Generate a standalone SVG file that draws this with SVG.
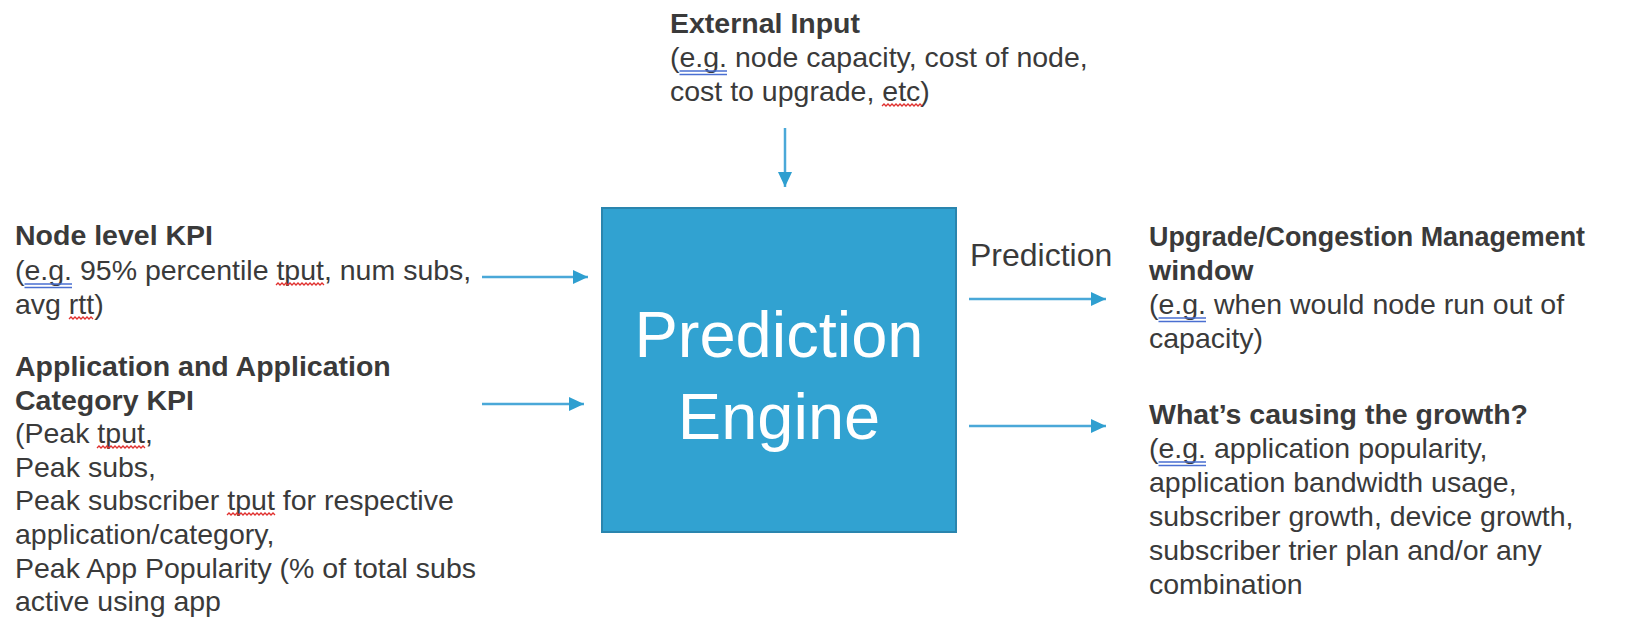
<svg xmlns="http://www.w3.org/2000/svg" width="1631" height="621" viewBox="0 0 1631 621">
<style>
  .t { font-family: "Liberation Sans", Arial, sans-serif; font-size: 28.5px; fill: #3a3a3a; }
  .b { font-weight: bold; }
  .conn { stroke: #4aa8d8; stroke-width: 2.5; fill: none; }
  .eg { stroke: #4a6fd1; stroke-width: 1.6; fill: none; }
  .sq { stroke: #e0302e; stroke-width: 1.3; fill: none; }
  .big { font-family: "Liberation Sans", Arial, sans-serif; font-size: 65px; fill: #ffffff; text-anchor: middle; }
</style>
<defs>
  <marker id="ah" markerUnits="userSpaceOnUse" markerWidth="16" markerHeight="16" refX="15" refY="7" orient="auto">
    <path d="M0,0 L15,7 L0,14 Z" fill="#2f9fd0"/>
  </marker>
</defs>
<rect width="1631" height="621" fill="#ffffff"/>

<g id="external-input">
  <text class="t b" x="670" y="33">External Input</text>
  <text class="t" x="670" y="67">(e.g. node capacity, cost of node,</text>
  <text class="t" x="670" y="101">cost to upgrade, etc)</text>
  <path class="eg" d="M679.5,71 H727 M679.5,74.5 H727"/>
  <path class="sq" d="M882,106 l2,-2 l2,2 l2,-2 l2,2 l2,-2 l2,2 l2,-2 l2,2 l2,-2 l2,2 l2,-2 l2,2 l2,-2 l2,2 l2,-2 l2,2 l2,-2 l2,2 l2,-2 l2,2"/>
</g>

<g id="node-kpi">
  <text class="t b" x="15" y="245">Node level KPI</text>
  <text class="t" x="15" y="280">(e.g. 95% percentile tput, num subs,</text>
  <text class="t" x="15" y="314">avg rtt)</text>
  <path class="eg" d="M24.5,284 H72 M24.5,287.5 H72"/>
  <path class="sq" d="M276,285 l2,-2 l2,2 l2,-2 l2,2 l2,-2 l2,2 l2,-2 l2,2 l2,-2 l2,2 l2,-2 l2,2 l2,-2 l2,2 l2,-2 l2,2 l2,-2 l2,2 l2,-2 l2,2 l2,-2 l2,2 l2,-2 l2,2"/>
  <path class="sq" d="M69,319 l2,-2 l2,2 l2,-2 l2,2 l2,-2 l2,2 l2,-2 l2,2 l2,-2 l2,2 l2,-2 l2,2"/>
</g>

<g id="app-kpi">
  <text class="t b" x="15" y="376">Application and Application</text>
  <text class="t b" x="15" y="410">Category KPI</text>
  <text class="t" x="15" y="443">(Peak tput,</text>
  <text class="t" x="15" y="477">Peak subs,</text>
  <text class="t" x="15" y="510">Peak subscriber tput for respective</text>
  <text class="t" x="15" y="544">application/category,</text>
  <text class="t" x="15" y="578">Peak App Popularity (% of total subs</text>
  <text class="t" x="15" y="611">active using app</text>
  <path class="sq" d="M97,448 l2,-2 l2,2 l2,-2 l2,2 l2,-2 l2,2 l2,-2 l2,2 l2,-2 l2,2 l2,-2 l2,2 l2,-2 l2,2 l2,-2 l2,2 l2,-2 l2,2 l2,-2 l2,2 l2,-2 l2,2 l2,-2 l2,2"/>
  <path class="sq" d="M227,515 l2,-2 l2,2 l2,-2 l2,2 l2,-2 l2,2 l2,-2 l2,2 l2,-2 l2,2 l2,-2 l2,2 l2,-2 l2,2 l2,-2 l2,2 l2,-2 l2,2 l2,-2 l2,2 l2,-2 l2,2 l2,-2 l2,2"/>
</g>

<g id="prediction-engine">
  <rect x="602" y="208" width="354" height="324" fill="#31a2d1" stroke="#2a85ae" stroke-width="2"/>
  <text class="big" x="779" y="357">Prediction</text>
  <text class="big" x="779" y="439">Engine</text>
</g>

<g id="upgrade-window">
  <text class="t b" x="1149" y="246" textLength="436" lengthAdjust="spacingAndGlyphs">Upgrade/Congestion Management</text>
  <text class="t b" x="1149" y="280">window</text>
  <text class="t" x="1149" y="314">(e.g. when would node run out of</text>
  <text class="t" x="1149" y="348">capacity)</text>
  <path class="eg" d="M1158.5,318 H1206 M1158.5,321.5 H1206"/>
</g>

<g id="growth-causes">
  <text class="t b" x="1149" y="424">What’s causing the growth?</text>
  <text class="t" x="1149" y="458">(e.g. application popularity,</text>
  <text class="t" x="1149" y="492">application bandwidth usage,</text>
  <text class="t" x="1149" y="526">subscriber growth, device growth,</text>
  <text class="t" x="1149" y="560">subscriber trier plan and/or any</text>
  <text class="t" x="1149" y="594">combination</text>
  <path class="eg" d="M1158.5,462 H1206 M1158.5,465.5 H1206"/>
</g>

<g id="connectors">
  <line class="conn" x1="785" y1="128" x2="785" y2="187" marker-end="url(#ah)"/>
  <line class="conn" x1="482" y1="277" x2="588" y2="277" marker-end="url(#ah)"/>
  <line class="conn" x1="482" y1="404" x2="584" y2="404" marker-end="url(#ah)"/>
  <line class="conn" x1="969" y1="299" x2="1106" y2="299" marker-end="url(#ah)"/>
  <line class="conn" x1="969" y1="426" x2="1106" y2="426" marker-end="url(#ah)"/>
  <text class="t" x="970" y="266" style="font-size:32px">Prediction</text>
</g>
</svg>
